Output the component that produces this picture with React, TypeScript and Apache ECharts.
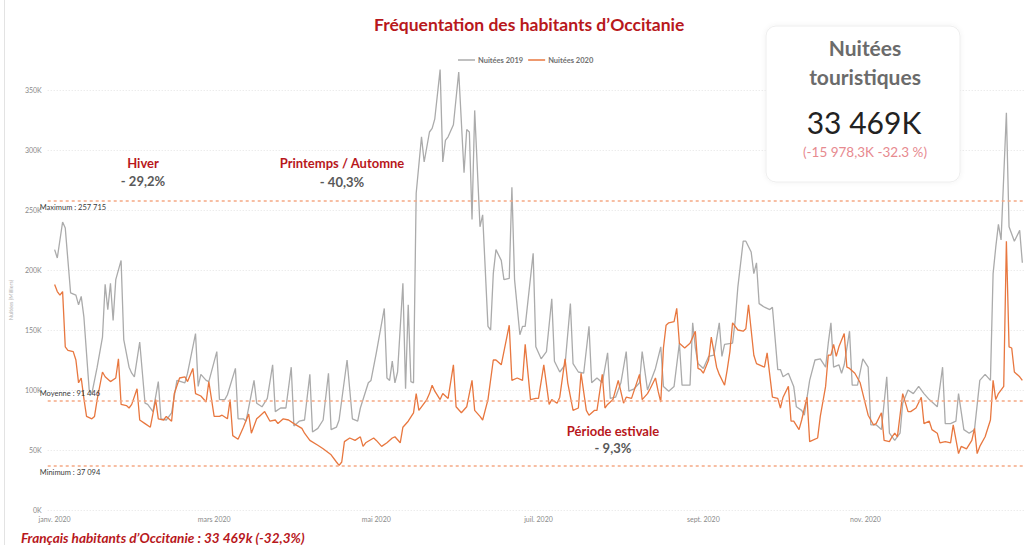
import React, { useEffect, useRef } from "react";
import * as echarts from "echarts";

// x = day of year 2020 (0 = 1 janv.), values in thousands of nights
const days2019 = [0,1,3,4,6,8,9,10,11,13,14,16,18,19,20,21,22,23,25,26,28,29,30,32,34,35,37,39,40,42,44,46,49,50,53,54,55,57,58,61,62,64,65,68,69,71,72,75,76,78,80,82,83,85,87,89,90,92,94,96,97,99,101,103,104,106,107,110,112,114,115,118,119,121,124,125,126,127,128,129,131,132,133,134,135,136,138,139,141,142,143,145,146,147,148,150,152,154,155,156,157,158,160,161,163,164,165,166,168,169,171,172,173,175,176,177,180,181,183,185,187,188,190,192,194,195,197,199,201,202,204,206,208,209,211,213,215,216,218,220,221,223,224,226,228,229,231,233,235,236,239,240,241,242,244,246,248,250,251,252,255,256,257,259,260,262,263,264,265,267,269,270,272,273,274,276,278,279,281,282,284,286,288,290,291,292,293,295,296,297,299,300,302,304,306,307,309,311,313,314,316,318,319,321,323,325,327,329,332,334,335,337,339,340,342,344,346,348,350,352,353,354,355,356,358,359,361,363,364];
const values2019 = [217,210,240,235,181,179,171,178,161,100,97,119,144,188,167,189,158,192,208,142,119,114,111,140,89,88,82,107,76,75,81,108,106,114,147,103,113,108,107,132,92,92,96,118,76,76,74,108,89,86,93,121,82,85,85,119,70,74,75,113,65,68,75,114,67,69,75,125,76,74,85,106,108,131,168,110,108,124,106,115,189,101,171,107,106,264,311,290,315,318,326,367,290,308,311,321,365,281,317,315,242,333,236,246,153,150,197,217,208,192,193,269,192,146,153,153,214,136,126,132,176,124,115,121,172,122,115,114,153,106,110,106,131,93,94,106,132,99,101,106,132,100,106,118,136,103,99,103,139,104,104,156,135,122,118,128,129,156,128,138,139,158,186,224,224,215,197,206,172,169,167,169,117,117,111,114,103,86,83,79,108,125,126,119,139,156,119,121,114,121,149,104,104,126,119,71,71,67,111,64,58,64,89,100,97,103,97,92,86,119,72,72,74,97,67,64,67,108,113,108,197,219,238,225,331,236,224,233,206];

const days2020 = [0,1,2,3,4,5,7,8,9,10,11,12,14,15,16,18,19,21,23,24,25,27,28,29,31,32,34,36,38,39,41,42,44,45,47,49,50,52,53,55,57,58,60,62,63,65,66,67,69,71,73,74,76,77,79,81,83,84,86,88,90,93,94,96,99,101,104,106,107,108,109,111,113,115,116,117,120,121,123,125,127,128,130,131,133,135,136,137,138,140,141,142,143,145,146,148,150,151,153,155,157,158,160,161,163,165,166,168,171,172,174,176,177,179,181,182,184,186,187,189,190,192,193,195,197,198,200,201,203,204,206,207,208,210,212,214,215,217,220,221,223,224,226,227,228,229,230,231,233,234,235,237,239,241,242,243,244,246,247,249,250,252,253,254,255,257,259,260,261,263,264,267,268,270,272,273,274,276,277,278,280,281,283,284,285,287,288,290,291,292,293,294,295,297,298,299,301,303,306,308,309,311,312,314,315,316,317,319,321,322,324,326,327,329,330,332,333,335,337,338,340,341,343,345,346,347,348,350,352,353,354,355,357,358,359,360,361,363,364];
const values2020 = [188,182,179,182,136,133,132,125,106,110,93,78,76,78,92,115,111,107,110,126,88,87,85,88,101,75,72,69,92,76,75,78,74,97,110,111,107,118,97,95,90,107,78,78,79,76,92,62,59,69,80,64,76,78,82,74,75,72,76,75,72,68,64,58,54,51,46,40,37.1,40,57,60,58,61,53,56,60,58,53,56,60,61,56,69,74,81,97,83,86,92,97,104,99,92,97,93,121,86,81,86,108,83,78,75,92,125,125,121,154,108,110,108,138,92,93,93,121,88,92,89,94,126,106,83,85,114,83,79,83,83,113,85,88,92,108,89,94,93,113,92,97,101,110,99,90,135,154,156,157,168,139,135,139,149,118,117,114,125,144,119,113,104,117,132,156,150,149,151,171,129,122,119,131,94,93,85,94,103,74,74,67,75,94,57,58,60,78,103,129,129,138,128,136,147,119,118,114,106,79,71,72,81,58,57,61,64,61,97,82,82,85,94,72,74,67,64,56,57,56,71,47,53,51,58,68,47,53,61,75,108,92,97,103,224,136,135,115,111,108];

const seriesNames = ["Nuitées 2019", "Nuitées 2020"];
const tickDays = [0, 60, 121, 182, 244, 305];
const tickLabels = ["janv. 2020", "mars 2020", "mai 2020", "juil. 2020", "sept. 2020", "nov. 2020"];

const refValues = [257.715, 91.446, 37.094];
const refLabels = ["Maximum : 257 715", "Moyenne : 91 446", "Minimum : 37 094"];

const seasonNames = ["Hiver", "Printemps / Automne", "Période estivale"];
const seasonChanges = ["- 29,2%", "- 40,3%", "- 9,3%"];

const titleText = "Fréquentation des habitants d’Occitanie";
const kpiTitle = ["Nuitées", "touristiques"];
const kpiValue = "33 469K";
const kpiDelta = "(-15 978,3K -32.3 %)";
const footerText = "Français habitants d’Occitanie : 33 469k (-32,3%)";

const FONT = "Lato, 'Open Sans', sans-serif";
const RED = "#B8181C";
const GREY_TXT = "#595959";

export default function App() {
  const ref = useRef<HTMLDivElement>(null);
  useEffect(() => {
    if (!ref.current) return;
    const chart = echarts.init(ref.current, null, { renderer: "svg" });
    const seasonPos = [
      [143, 163, 181],
      [342, 163, 182],
      [613, 431, 448],
    ];
    const graphics: any[] = [
      { type: "line", shape: { x1: 4.5, y1: 0, x2: 4.5, y2: 545 }, style: { stroke: "#e3e3e3", lineWidth: 1 }, z: 1 },
      {
        type: "rect",
        shape: { x: 766, y: 26, width: 194, height: 156, r: 10 },
        style: { fill: "#fff", stroke: "#eeeeee", lineWidth: 1, shadowBlur: 5, shadowColor: "rgba(0,0,0,0.06)" },
        z: 10,
      },
      { type: "text", x: 865, y: 47, z: 11, style: { text: kpiTitle[0], fontFamily: FONT, fontWeight: "bold", fontSize: 21, fill: "#6b6b6b", align: "center", verticalAlign: "middle" } },
      { type: "text", x: 865, y: 76, z: 11, style: { text: kpiTitle[1], fontFamily: FONT, fontWeight: "bold", fontSize: 21, fill: "#6b6b6b", align: "center", verticalAlign: "middle" } },
      { type: "text", x: 864, y: 122, z: 11, style: { text: kpiValue, fontFamily: FONT, fontSize: 30, fill: "#222", align: "center", verticalAlign: "middle" } },
      { type: "text", x: 865, y: 152, z: 11, style: { text: kpiDelta, fontFamily: FONT, fontSize: 13.5, fill: "#E78A8F", align: "center", verticalAlign: "middle" } },
      { type: "text", x: 21, y: 538, z: 11, style: { text: footerText, fontFamily: FONT, fontWeight: "bold", fontStyle: "italic", fontSize: 13.6, fill: RED, align: "left", verticalAlign: "middle" } },
    ];
    seasonNames.forEach((name, i) => {
      const [x, y1, y2] = seasonPos[i];
      graphics.push({ type: "text", x, y: y1, z: 11, style: { text: name, fontFamily: FONT, fontWeight: "bold", fontSize: 13, fill: RED, align: "center", verticalAlign: "middle" } });
      graphics.push({ type: "text", x, y: y2, z: 11, style: { text: seasonChanges[i], fontFamily: FONT, fontWeight: "bold", fontSize: 13, fill: GREY_TXT, align: "center", verticalAlign: "middle" } });
    });

    chart.setOption({
      animation: false,
      backgroundColor: "#fff",
      title: {
        text: titleText,
        left: 369,
        top: 10,
        textStyle: { fontFamily: FONT, fontWeight: "bold", fontSize: 17.5, color: RED },
      },
      legend: {
        top: 51,
        left: 453,
        icon: "rect",
        itemWidth: 17,
        itemHeight: 1.5,
        itemGap: 5,
        textStyle: { fontFamily: FONT, fontSize: 7.5, fontWeight: "bold", color: "#707070", padding: [0, 0, 0, -2] },
        data: seriesNames,
      },
      grid: { left: 39, top: 90, width: 989, height: 420, containLabel: false },
      xAxis: {
        type: "value",
        min: -2.6,
        max: 365,
        axisLine: { show: false },
        axisTick: { show: false },
        splitLine: { show: false },
        axisLabel: {
          customValues: tickDays,
          formatter: (v: number) => {
            const i = tickDays.indexOf(Math.round(v));
            return i >= 0 ? tickLabels[i] : "";
          },
          fontFamily: FONT,
          fontSize: 7,
          color: "#8a8a8a",
          margin: 5,
        },
      },
      yAxis: {
        type: "value",
        min: 0,
        max: 350,
        interval: 50,
        name: "Nuitées (Milliers)",
        nameLocation: "middle",
        nameGap: 28,
        nameRotate: 90,
        nameTextStyle: { fontFamily: FONT, fontSize: 5.5, color: "#b0b0b0" },
        axisLine: { show: false },
        axisTick: { show: false },
        axisLabel: { formatter: (v: number) => v + "K", fontFamily: FONT, fontSize: 7, color: "#8a8a8a", margin: 6 },
        splitLine: { lineStyle: { color: "#e4e4e4", type: [1, 2], width: 1 } },
      },
      series: [
        {
          name: seriesNames[0],
          type: "line",
          data: days2019.map((d, i) => [d, values2019[i]]),
          showSymbol: false,
          symbol: "none",
          clip: false,
          lineStyle: { color: "#ABABAB", width: 1.3 },
          itemStyle: { color: "#ABABAB" },
          z: 3,
        },
        {
          name: seriesNames[1],
          type: "line",
          data: days2020.map((d, i) => [d, values2020[i]]),
          showSymbol: false,
          symbol: "none",
          clip: false,
          lineStyle: { color: "#E8773F", width: 1.3 },
          itemStyle: { color: "#E8773F" },
          z: 4,
          markLine: {
            silent: true,
            symbol: "none",
            lineStyle: { color: "#F5A985", type: [3, 3], width: 1.5 },
            data: refValues.map((v, i) => ({
              yAxis: v,
              label: {
                show: true,
                formatter: refLabels[i],
                position: i === 1 ? "insideStartTop" : "insideStartBottom",
                distance: [-8, 3],
                fontFamily: FONT,
                fontSize: 7.5,
                color: "#3a3a3a",
              },
            })),
          },
        },
      ],
      graphic: graphics,
    });
    return () => chart.dispose();
  }, []);
  return <div ref={ref} style={{ position: "fixed", left: 0, top: 0, width: 1025, height: 545, background: "#fff" }} />;
}
